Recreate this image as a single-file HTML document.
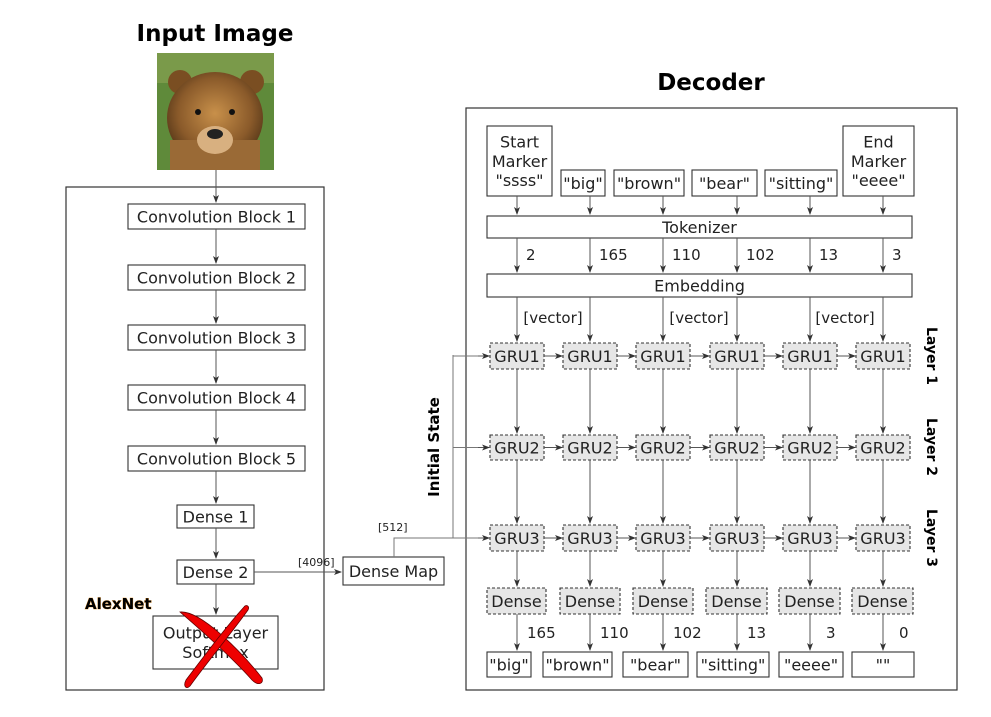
<!DOCTYPE html>
<html><head><meta charset="utf-8"><style>
html,body{margin:0;padding:0;background:#fff;}
svg{display:block;font-family:"DejaVu Sans","Liberation Sans",sans-serif;}
</style></head><body>
<svg id="s" width="991" height="717" viewBox="0 0 991 717" xmlns="http://www.w3.org/2000/svg">
<defs>
<marker id="ar" markerWidth="8" markerHeight="6" refX="7" refY="3" orient="auto"><path d="M0,0 L8,3 L0,6 L2,3 Z" fill="#333"/></marker>
<radialGradient id="fur" cx="50%" cy="45%" r="55%"><stop offset="0" stop-color="#c8904a"/><stop offset="0.7" stop-color="#8a5a2a"/><stop offset="1" stop-color="#5a3a1a"/></radialGradient>
</defs>
<text x="215" y="41" font-size="23" font-weight="bold" text-anchor="middle">Input Image</text>
<g>
<rect x="157" y="53" width="117" height="117" fill="#5f8a3a"/>
<rect x="157" y="53" width="117" height="30" fill="#7a9a4a"/>
<ellipse cx="180" cy="82" rx="12" ry="12" fill="#7a4e22"/>
<ellipse cx="252" cy="82" rx="12" ry="12" fill="#7a4e22"/>
<ellipse cx="215" cy="118" rx="48" ry="46" fill="url(#fur)"/>
<rect x="170" y="140" width="90" height="30" fill="#9a6a36"/>
<ellipse cx="215" cy="140" rx="18" ry="14" fill="#d8b080"/>
<ellipse cx="215" cy="134" rx="8" ry="5" fill="#222"/>
<circle cx="198" cy="112" r="3" fill="#111"/><circle cx="232" cy="112" r="3" fill="#111"/>
</g>
<text x="711" y="90" font-size="23" font-weight="bold" text-anchor="middle">Decoder</text>
<rect x="66" y="187" width="258" height="503" fill="none" stroke="#333" stroke-width="1.2"/>
<rect x="466" y="108" width="491" height="582" fill="none" stroke="#333" stroke-width="1.2"/>
<g id="g"></g>
<text x="85" y="609" font-size="15" font-weight="bold" fill="#000" style="paint-order:stroke" stroke="#e89020" stroke-width="0.6">AlexNet</text>
<text x="298" y="566" font-size="11" fill="#222">[4096]</text>
<text x="378" y="531" font-size="11" fill="#222">[512]</text>
<text transform="translate(439,447) rotate(-90)" font-size="15" font-weight="bold" text-anchor="middle">Initial State</text>
<text transform="translate(927,356) rotate(90)" font-size="14" font-weight="bold" text-anchor="middle">Layer 1</text>
<text transform="translate(927,447) rotate(90)" font-size="14" font-weight="bold" text-anchor="middle">Layer 2</text>
<text transform="translate(927,538) rotate(90)" font-size="14" font-weight="bold" text-anchor="middle">Layer 3</text>
<g>
<path d="M180,612 C200,610 240,650 262,678 C264,684 258,686 252,680 C230,655 195,625 180,612 Z" fill="#e00" stroke="#600" stroke-width="0.8"/>
<path d="M244,607 C246,604 250,606 248,610 C230,635 205,665 190,686 C186,690 183,686 186,680 C205,655 225,628 244,607 Z" fill="#e00" stroke="#600" stroke-width="0.8"/>
</g>
</svg>
<script>
const g=document.getElementById('g');
const NS='http://www.w3.org/2000/svg';
function el(t,a){const e=document.createElementNS(NS,t);for(const k in a)e.setAttribute(k,a[k]);g.appendChild(e);return e;}
function box(x1,y1,x2,y2,label,name,dashed,fs){
 const r=el('rect',{x:x1,y:y1,width:x2-x1,height:y2-y1,fill:dashed?'#e6e6e6':'#fff',stroke:'#333','stroke-width':1.1});
 if(dashed)r.setAttribute('stroke-dasharray','3,2');
 
 
 const lines=label.split('\n');const f=fs||16;
 const cy=(y1+y2)/2-(lines.length-1)*f*0.6;
 lines.forEach((l,i)=>{const t=el('text',{x:(x1+x2)/2,y:cy+i*f*1.2+f*0.36,'font-size':f,'text-anchor':'middle',fill:'#222'});t.textContent=l;
 
 });
}
function arrow(x1,y1,x2,y2,name){const l=el('line',{x1,y1,x2,y2,stroke:'#555','stroke-width':1,'marker-end':'url(#ar)'});
 
 }
function line(pts,name){const p=el('polyline',{points:pts,fill:'none',stroke:'#777','stroke-width':1});
 
 }
function txt(x,y,s,name,fs){const t=el('text',{x,y,'font-size':fs||15,fill:'#222'});t.textContent=s;
 
 }
arrow(216,170,216,202,'arrow-image-conv1');
const conv=[204,265,325,385,446];
conv.forEach((y,i)=>{box(128,y,305,y+25,'Convolution Block '+(i+1),'conv-block-'+(i+1));
 const ny=i<4?conv[i+1]:505;arrow(216,y+25,216,ny-2,'arrow-conv-'+(i+1));});
box(177,505,254,528,'Dense 1','dense-1');arrow(216,528,216,558,'arrow-dense1-dense2');
box(177,560,254,584,'Dense 2','dense-2');arrow(216,584,216,614,'arrow-dense2-output');
box(153,616,278,669,'Output Layer\nSoftmax','output-layer-softmax');
arrow(254,572,341,572,'arrow-dense2-densemap');
box(343,557,444,585,'Dense Map','dense-map');
line('394,557 394,538 453,538 453,355','initial-state-line');
const cols=[517,590,663,737,810,883];
const tokX=[[487,552],[561,605],[614,684],[692,757],[765,837],[843,914]];
const tokL=['Start\nMarker\n"ssss"','"big"','"brown"','"bear"','"sitting"','End\nMarker\n"eeee"'];
tokX.forEach((t,i)=>{box(t[0],i==0||i==5?126:170,t[1],196,tokL[i],'token-'+i);arrow(cols[i],196,cols[i],214,'arrow-token-'+i);});
box(487,216,912,238,'Tokenizer','tokenizer');
box(487,274,912,297,'Embedding','embedding');
const ids=['2','165','110','102','13','3'];
cols.forEach((c,i)=>{arrow(c,238,c,272,'arrow-tok-emb-'+i);txt(c+9,260,ids[i],'token-id-'+i);arrow(c,297,c,341,'arrow-emb-gru-'+i);});
[[553,'[vector]'],[699,'[vector]'],[845,'[vector]']].forEach((v,i)=>{const t=el('text',{x:v[0],y:323,'font-size':15,'text-anchor':'middle',fill:'#222'});t.textContent=v[1];
 
 });
const rows=[[343,369],[435,460],[525,551]];
rows.forEach((r,j)=>{const my=(r[0]+r[1])/2;
 line('453,'+my+' 480,'+my,'init-line-'+j);arrow(478,my,489,my,'arrow-init-gru'+(j+1));
 cols.forEach((c,i)=>{box(c-27,r[0],c+27,r[1],'GRU'+(j+1),'gru'+(j+1)+'-'+i,true);
  if(i<5)arrow(c+27,my,cols[i+1]-28,my,'arrow-gru'+(j+1)+'-'+i);
  const ny=j<2?rows[j+1][0]:588;arrow(c,r[1],c,ny-2,'arrow-gru-down-'+j+'-'+i);});});
const dX=[[487,546],[560,620],[633,693],[706,767],[779,840],[852,913]];
const outX=[[487,531],[543,612],[623,688],[697,769],[779,843],[852,914]];
const outL=['"big"','"brown"','"bear"','"sitting"','"eeee"','""'];
const outN=['165','110','102','13','3','0'];
cols.forEach((c,i)=>{box(dX[i][0],588,dX[i][1],614,'Dense','dense-out-'+i,true);
 arrow(c,614,c,650,'arrow-dense-out-'+i);txt(c+(i<4?10:16),638,outN[i],'out-id-'+i);
 box(outX[i][0],652,outX[i][1],677,outL[i],'output-word-'+i);});
</script>
</body></html>
